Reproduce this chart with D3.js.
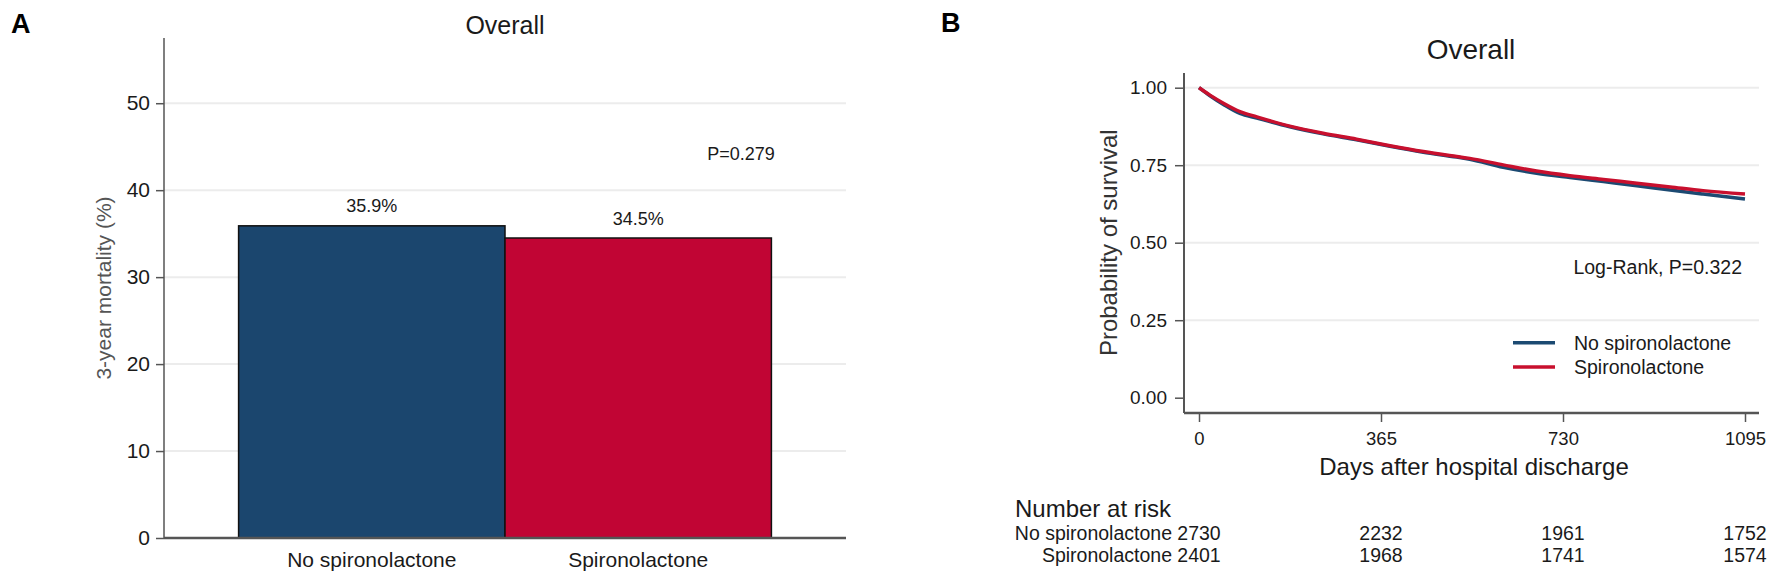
<!DOCTYPE html>
<html>
<head>
<meta charset="utf-8">
<script src="https://cdn.jsdelivr.net/npm/d3@7"></script>
<style>
  html, body { margin: 0; padding: 0; background: #fff; }
  svg { display: block; font-family: "Liberation Sans", Arial, sans-serif; }
</style>
</head>
<body>
<svg id="chart" width="1772" height="582"></svg>
<script>
// ---------- Panel A data ----------
const barCategories = ["No spironolactone", "Spironolactone"];
const barValues = [35.9, 34.5];
const barLabels = ["35.9%", "34.5%"];
const barColors = ["#1b466e", "#c10534"];
const barYTicks = [0, 10, 20, 30, 40, 50];

// ---------- Panel B data ----------
const kmDays     = [0, 22, 49, 82, 116, 182, 249, 316, 383, 450, 517, 543, 610, 677, 744, 811, 878, 945, 1011, 1095];
const kmNoSpiro  = [1.0, 0.974, 0.946, 0.917, 0.902, 0.874, 0.851, 0.832, 0.811, 0.792, 0.776, 0.769, 0.743, 0.724, 0.710, 0.697, 0.684, 0.670, 0.657, 0.641];
const kmSpiro    = [1.0, 0.976, 0.950, 0.923, 0.906, 0.876, 0.853, 0.834, 0.813, 0.794, 0.778, 0.772, 0.751, 0.731, 0.716, 0.704, 0.692, 0.680, 0.668, 0.657];
const kmGroups   = ["No spironolactone", "Spironolactone"];
const kmColors   = ["#1c4a72", "#c8102e"];
const kmXTicks   = [0, 365, 730, 1095];
const kmYTicks   = [0, 0.25, 0.5, 0.75, 1];
const riskNoSpiro = [2730, 2232, 1961, 1752];
const riskSpiro   = [2401, 1968, 1741, 1574];

const svg = d3.select("#chart");
const txt = "#1a1a1a";

// ================= Panel A =================
const A = { left: 164, right: 846, top: 38, bottom: 538 };
const yA = d3.scaleLinear().domain([0, 57.5]).range([A.bottom, A.top]);
const xA = d3.scaleBand().domain(barCategories).range([A.left, A.right]).paddingInner(0).paddingOuter(0.28);

const gA = svg.append("g");
// grid
gA.selectAll("line.grid").data(barYTicks.filter(d => d > 0)).enter().append("line")
  .attr("x1", A.left).attr("x2", A.right)
  .attr("y1", d => yA(d)).attr("y2", d => yA(d))
  .attr("stroke", "#ececec").attr("stroke-width", 2);

// bars
gA.selectAll("rect.bar").data(barCategories).enter().append("rect")
  .attr("x", d => xA(d)).attr("width", xA.bandwidth())
  .attr("y", (d, i) => yA(barValues[i]))
  .attr("height", (d, i) => yA(0) - yA(barValues[i]))
  .attr("fill", (d, i) => barColors[i])
  .attr("stroke", "#111").attr("stroke-width", 1.5);

// bar labels
gA.selectAll("text.blab").data(barCategories).enter().append("text")
  .attr("x", d => xA(d) + xA.bandwidth() / 2)
  .attr("y", (d, i) => yA(barValues[i]) - 13.5)
  .attr("text-anchor", "middle").attr("font-size", 18).attr("fill", txt)
  .text((d, i) => barLabels[i]);

// y axis
const yAxisA = gA.append("g").attr("transform", `translate(${A.left},0)`)
  .call(d3.axisLeft(yA).tickValues(barYTicks).tickSize(8).tickPadding(6).tickFormat(d3.format("d")));
yAxisA.select(".domain").remove();
yAxisA.selectAll(".tick line").attr("stroke", "#555").attr("stroke-width", 1.5);
yAxisA.selectAll(".tick text").attr("font-size", 21).attr("fill", txt).attr("font-family", "Liberation Sans, Arial, sans-serif");
gA.append("line").attr("x1", A.left).attr("x2", A.left).attr("y1", A.top).attr("y2", A.bottom)
  .attr("stroke", "#555").attr("stroke-width", 1.5);

// x axis
gA.append("line").attr("x1", A.left).attr("x2", A.right).attr("y1", A.bottom).attr("y2", A.bottom)
  .attr("stroke", "#555").attr("stroke-width", 2.5);
gA.selectAll("text.xlab").data(barCategories).enter().append("text")
  .attr("x", d => xA(d) + xA.bandwidth() / 2).attr("y", 566.5)
  .attr("text-anchor", "middle").attr("font-size", 21).attr("fill", txt)
  .text(d => d);

// y label
gA.append("text").attr("transform", `translate(111,${(A.top + A.bottom) / 2}) rotate(-90)`)
  .attr("text-anchor", "middle").attr("font-size", 21).attr("fill", "#555")
  .text("3-year mortality (%)");

// title, p-value, panel letter
gA.append("text").attr("x", 505).attr("y", 34).attr("text-anchor", "middle")
  .attr("font-size", 25).attr("fill", txt).text("Overall");
gA.append("text").attr("x", 741).attr("y", 160).attr("text-anchor", "middle")
  .attr("font-size", 18).attr("fill", txt).text("P=0.279");
gA.append("text").attr("x", 11).attr("y", 33).attr("font-size", 27).attr("font-weight", "bold")
  .attr("fill", "#000").text("A");

// ================= Panel B =================
const B = { left: 1184, right: 1759, top: 73, bottom: 413 };
const xB = d3.scaleLinear().domain([0, 1095]).range([1199, 1745]);
const yB = d3.scaleLinear().domain([0, 1]).range([397.7, 87.7]);

const gB = svg.append("g");
// grid
gB.selectAll("line.grid").data(kmYTicks.filter(d => d > 0)).enter().append("line")
  .attr("x1", B.left).attr("x2", B.right)
  .attr("y1", d => yB(d)).attr("y2", d => yB(d))
  .attr("stroke", "#ececec").attr("stroke-width", 2);

// y axis
const yAxisB = gB.append("g").attr("transform", `translate(${B.left},0)`)
  .call(d3.axisLeft(yB).tickValues(kmYTicks).tickSize(9).tickPadding(8).tickFormat(d3.format(".2f")));
yAxisB.select(".domain").remove();
yAxisB.selectAll(".tick line").attr("stroke", "#555").attr("stroke-width", 1.5);
yAxisB.selectAll(".tick text").attr("font-size", 19).attr("fill", txt).attr("font-family", "Liberation Sans, Arial, sans-serif");
gB.append("line").attr("x1", B.left).attr("x2", B.left).attr("y1", B.top).attr("y2", B.bottom)
  .attr("stroke", "#555").attr("stroke-width", 2);

// x axis
const xAxisB = gB.append("g").attr("transform", `translate(0,${B.bottom})`)
  .call(d3.axisBottom(xB).tickValues(kmXTicks).tickSize(9).tickPadding(5).tickFormat(d3.format("d")));
xAxisB.select(".domain").remove();
xAxisB.selectAll(".tick line").attr("stroke", "#555").attr("stroke-width", 1.5);
xAxisB.selectAll(".tick text").attr("font-size", 18.5).attr("fill", txt).attr("dy", null)
  .attr("y", 32).attr("font-family", "Liberation Sans, Arial, sans-serif");
gB.append("line").attr("x1", B.left).attr("x2", B.right).attr("y1", B.bottom).attr("y2", B.bottom)
  .attr("stroke", "#555").attr("stroke-width", 2.5);

// curves
const line = d3.line().x(d => xB(d[0])).y(d => yB(d[1])).curve(d3.curveMonotoneX);
[kmNoSpiro, kmSpiro].forEach((series, i) => {
  gB.append("path").datum(kmDays.map((d, j) => [d, series[j]]))
    .attr("d", line).attr("fill", "none")
    .attr("stroke", kmColors[i]).attr("stroke-width", 3.5).attr("stroke-linejoin", "round");
});

// legend
const legY = [342.7, 367];
kmGroups.forEach((g, i) => {
  gB.append("line").attr("x1", 1513).attr("x2", 1555).attr("y1", legY[i]).attr("y2", legY[i])
    .attr("stroke", kmColors[i]).attr("stroke-width", 3.5);
  gB.append("text").attr("x", 1574).attr("y", legY[i] + 7.2).attr("font-size", 19.5)
    .attr("fill", txt).text(g);
});

// annotations
gB.append("text").attr("x", 1742).attr("y", 274).attr("text-anchor", "end")
  .attr("font-size", 19.5).attr("fill", txt).text("Log-Rank, P=0.322");
gB.append("text").attr("x", 1471).attr("y", 59.3).attr("text-anchor", "middle")
  .attr("font-size", 28).attr("fill", txt).text("Overall");
gB.append("text").attr("x", 941).attr("y", 32).attr("font-size", 27).attr("font-weight", "bold")
  .attr("fill", "#000").text("B");
gB.append("text").attr("transform", `translate(1116.5,${(yB(0) + yB(1)) / 2}) rotate(-90)`)
  .attr("text-anchor", "middle").attr("font-size", 24).attr("fill", "#333")
  .text("Probability of survival");
gB.append("text").attr("x", 1474).attr("y", 475).attr("text-anchor", "middle")
  .attr("font-size", 24).attr("fill", txt).text("Days after hospital discharge");

// number at risk table
gB.append("text").attr("x", 1015).attr("y", 517).attr("font-size", 24).attr("fill", txt).text("Number at risk");
const riskRows = [riskNoSpiro, riskSpiro];
const riskY = [540.3, 562];
kmGroups.forEach((g, i) => {
  gB.append("text").attr("x", 1172).attr("y", riskY[i]).attr("text-anchor", "end")
    .attr("font-size", 19.5).attr("fill", txt).text(g);
  gB.selectAll(null).data(kmXTicks).enter().append("text")
    .attr("x", d => xB(d)).attr("y", riskY[i]).attr("text-anchor", "middle")
    .attr("font-size", 19.5).attr("fill", txt)
    .text((d, j) => riskRows[i][j]);
});
</script>
</body>
</html>
